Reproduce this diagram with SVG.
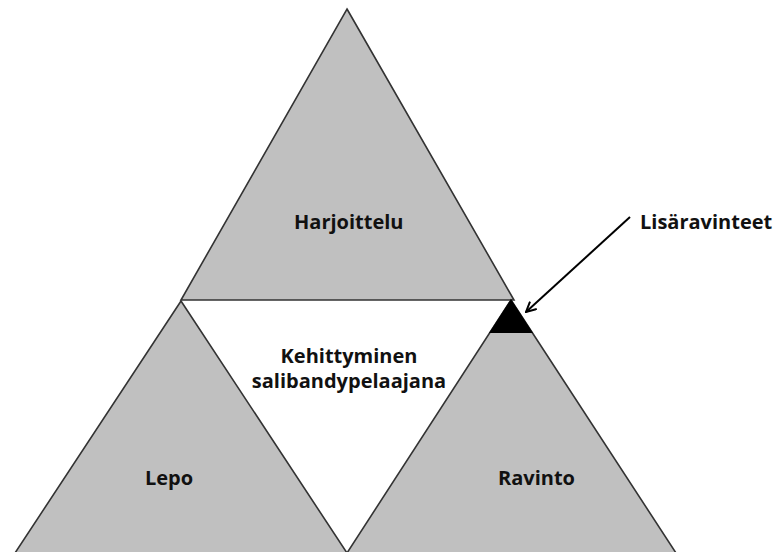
<svg xmlns="http://www.w3.org/2000/svg" width="774" height="552" viewBox="0 0 774 552">
  <style>
    .tri { fill: #c0c0c0; stroke: #333333; stroke-width: 1.6; stroke-linejoin: miter; }
    .lbl { font-family: "Open Sans", "Liberation Sans", sans-serif; font-weight: bold; font-size: 20px; fill: #111111; }
    .conn { stroke: #000000; stroke-width: 2; fill: none; }
  </style>
  <defs>
    <marker id="arrow" viewBox="0 0 12 12" refX="11" refY="6" markerWidth="12" markerHeight="12" markerUnits="userSpaceOnUse" orient="auto">
      <polyline points="1,1 11,6 1,11" fill="none" stroke="#000000" stroke-width="2"/>
    </marker>
  </defs>
  <rect width="774" height="552" fill="#ffffff"/>

  <g id="harjoittelu">
    <polygon class="tri" points="347,9 514,300 181,300"/>
    <text class="lbl" x="294" y="229">Harjoittelu</text>
  </g>

  <g id="kehittyminen">
    <polygon points="181,301 514,301 347,552" fill="#ffffff"/>
    <text class="lbl" x="349" y="363" text-anchor="middle">Kehittyminen</text>
    <text class="lbl" x="349" y="388" text-anchor="middle">salibandypelaajana</text>
  </g>

  <g id="lepo">
    <polygon class="tri" points="181,301 347,553 15,553"/>
    <text class="lbl" x="145" y="485">Lepo</text>
  </g>

  <g id="ravinto">
    <polygon class="tri" points="511,300 676,553 347,553"/>
    <text class="lbl" x="498" y="485">Ravinto</text>
  </g>

  <g id="lisaravinteet">
    <polygon points="511,299 533,333 489,333" fill="#000000"/>
    <text class="lbl" x="640" y="229">Lisäravinteet</text>
  </g>

  <g id="connectors">
    <line class="conn" x1="630" y1="217" x2="526" y2="312" marker-end="url(#arrow)"/>
  </g>
</svg>
